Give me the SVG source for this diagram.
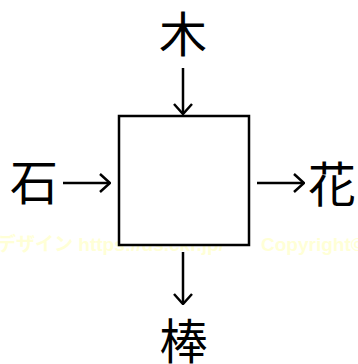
<svg xmlns="http://www.w3.org/2000/svg" width="358" height="364" viewBox="0 0 358 364">
<style>
.lbl{font-family:"Noto Sans CJK JP","Noto Sans",sans-serif;font-size:48px;fill:#000;text-anchor:middle;dominant-baseline:central}
.wm{font-family:"Liberation Sans","Noto Sans CJK JP",sans-serif;font-size:19px;font-weight:bold;fill:#ffffd6}
.box{fill:#fff;stroke:#000;stroke-width:2.5}
.con{stroke:#000;stroke-width:2.5;fill:none}
</style>
<defs>
<marker id="ah" viewBox="0 0 12 20" refX="11" refY="10" markerWidth="12" markerHeight="20" markerUnits="userSpaceOnUse" orient="auto">
<path d="M1,1 L11,10 L1,19" fill="none" stroke="#000" stroke-width="2.5"/>
</marker>
</defs>
<g id="watermark">
<text class="wm" x="-3" y="251">デザイン  https://ds.ckr.jp/</text>
<text class="wm" x="261" y="251">Copyright©A</text>
</g>
<g id="box"><rect class="box" x="119" y="116" width="130" height="129"/></g>
<g id="n-ki"><text class="lbl" x="183" y="31">木</text></g>
<g id="n-ishi"><text class="lbl" x="34" y="179">石</text></g>
<g id="n-hana"><text class="lbl" x="332" y="181">花</text></g>
<g id="n-bou"><text class="lbl" x="183.5" y="338">棒</text></g>
<g id="connectors">
<path class="con" d="M183,68 V114" marker-end="url(#ah)"/>
<path class="con" d="M63,183 H110" marker-end="url(#ah)"/>
<path class="con" d="M257,183 H304" marker-end="url(#ah)"/>
<path class="con" d="M183,252 V304" marker-end="url(#ah)"/>
</g>
</svg>
